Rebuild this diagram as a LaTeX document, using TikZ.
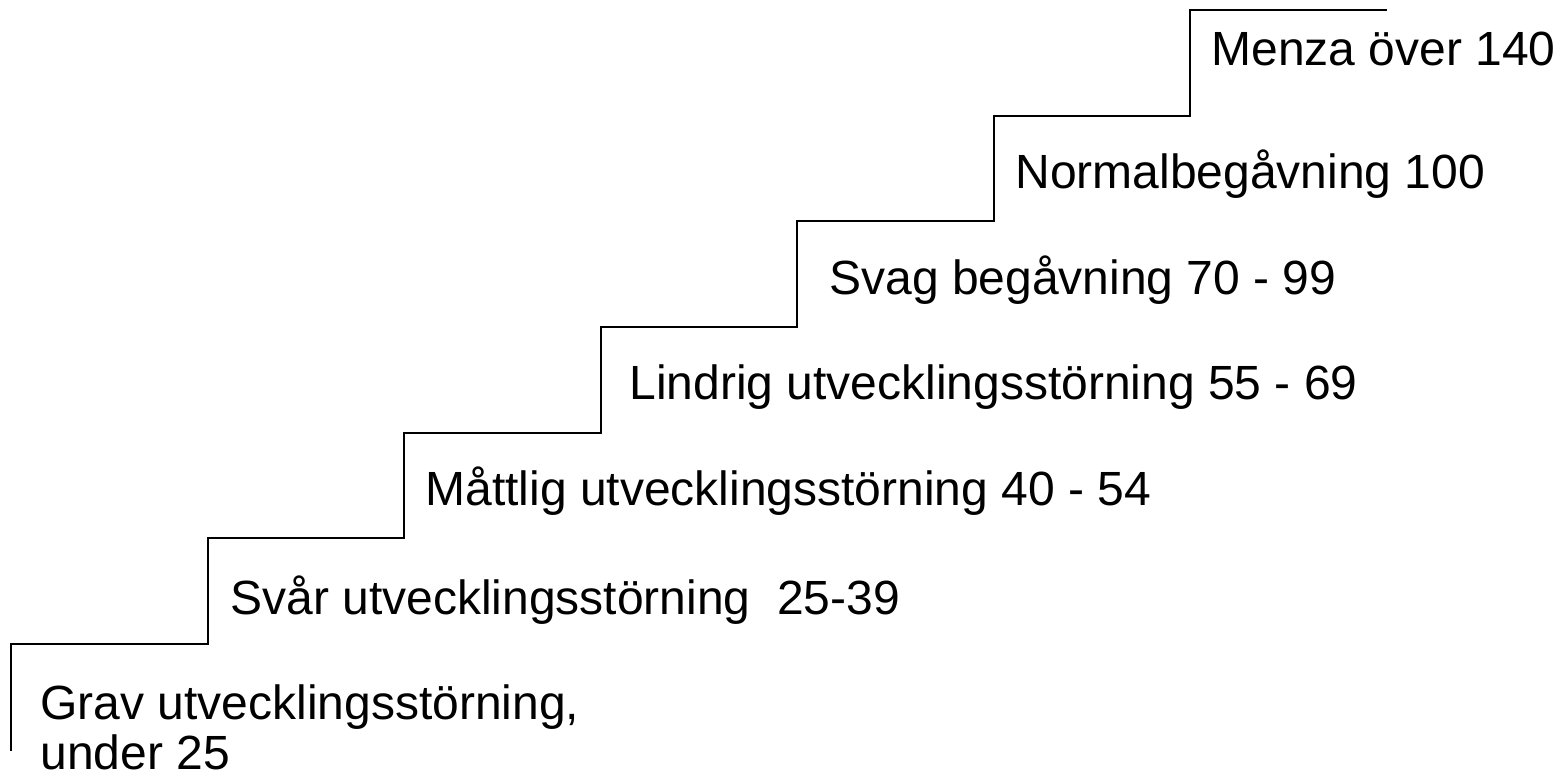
\documentclass[tikz,border=0pt]{standalone}
\usepackage{fontspec}
\setmainfont{Liberation Sans}
\usetikzlibrary{positioning}
\tikzset{%
	stair/.style = {line width=1pt, line join=miter},
	level/.style = {anchor=base west, inner sep=0pt, font=\fontsize{24}{25}\selectfont},
}

\begin{document}
\begin{tikzpicture}[x=0.5pt,y=-0.5pt]
	\useasboundingbox (0,0) rectangle (1566,776);
	
	% corners of the staircase
	\coordinate (c0) at (11,751);
	\foreach \i in {0,...,6} {
		\coordinate (r\i) at ({11+196.57*\i},{644-105.67*\i});
		\coordinate (t\i) at ({11+196.57*(\i+1)},{644-105.67*\i});
	}
	\draw[stair] (c0) -- (r0) -- (t0) -- (r1) -- (t1) -- (r2) -- (t2) -- (r3) -- (t3) -- (r4) -- (t4) -- (r5) -- (t5) -- (r6) -- (t6);
	
	\node[level] (grav) at (40,719) {Grav utvecklingsstörning,};
	\node[level] (grav2) at (40,769) {under 25};
	\node[level] (svar) at (230,614) {Svår utvecklingsstörning~~25-39};
	\node[level] (mattlig) at (425,505) {Måttlig utvecklingsstörning 40 - 54};
	\node[level] (lindrig) at (629,399) {Lindrig utvecklingsstörning 55 - 69};
	\node[level] (svag) at (829,294) {Svag begåvning 70 - 99};
	\node[level] (normal) at (1015,188) {Normalbegåvning 100};
	\node[level] (menza) at (1211,65) {Menza över 140};
	
\end{tikzpicture}
\end{document}
